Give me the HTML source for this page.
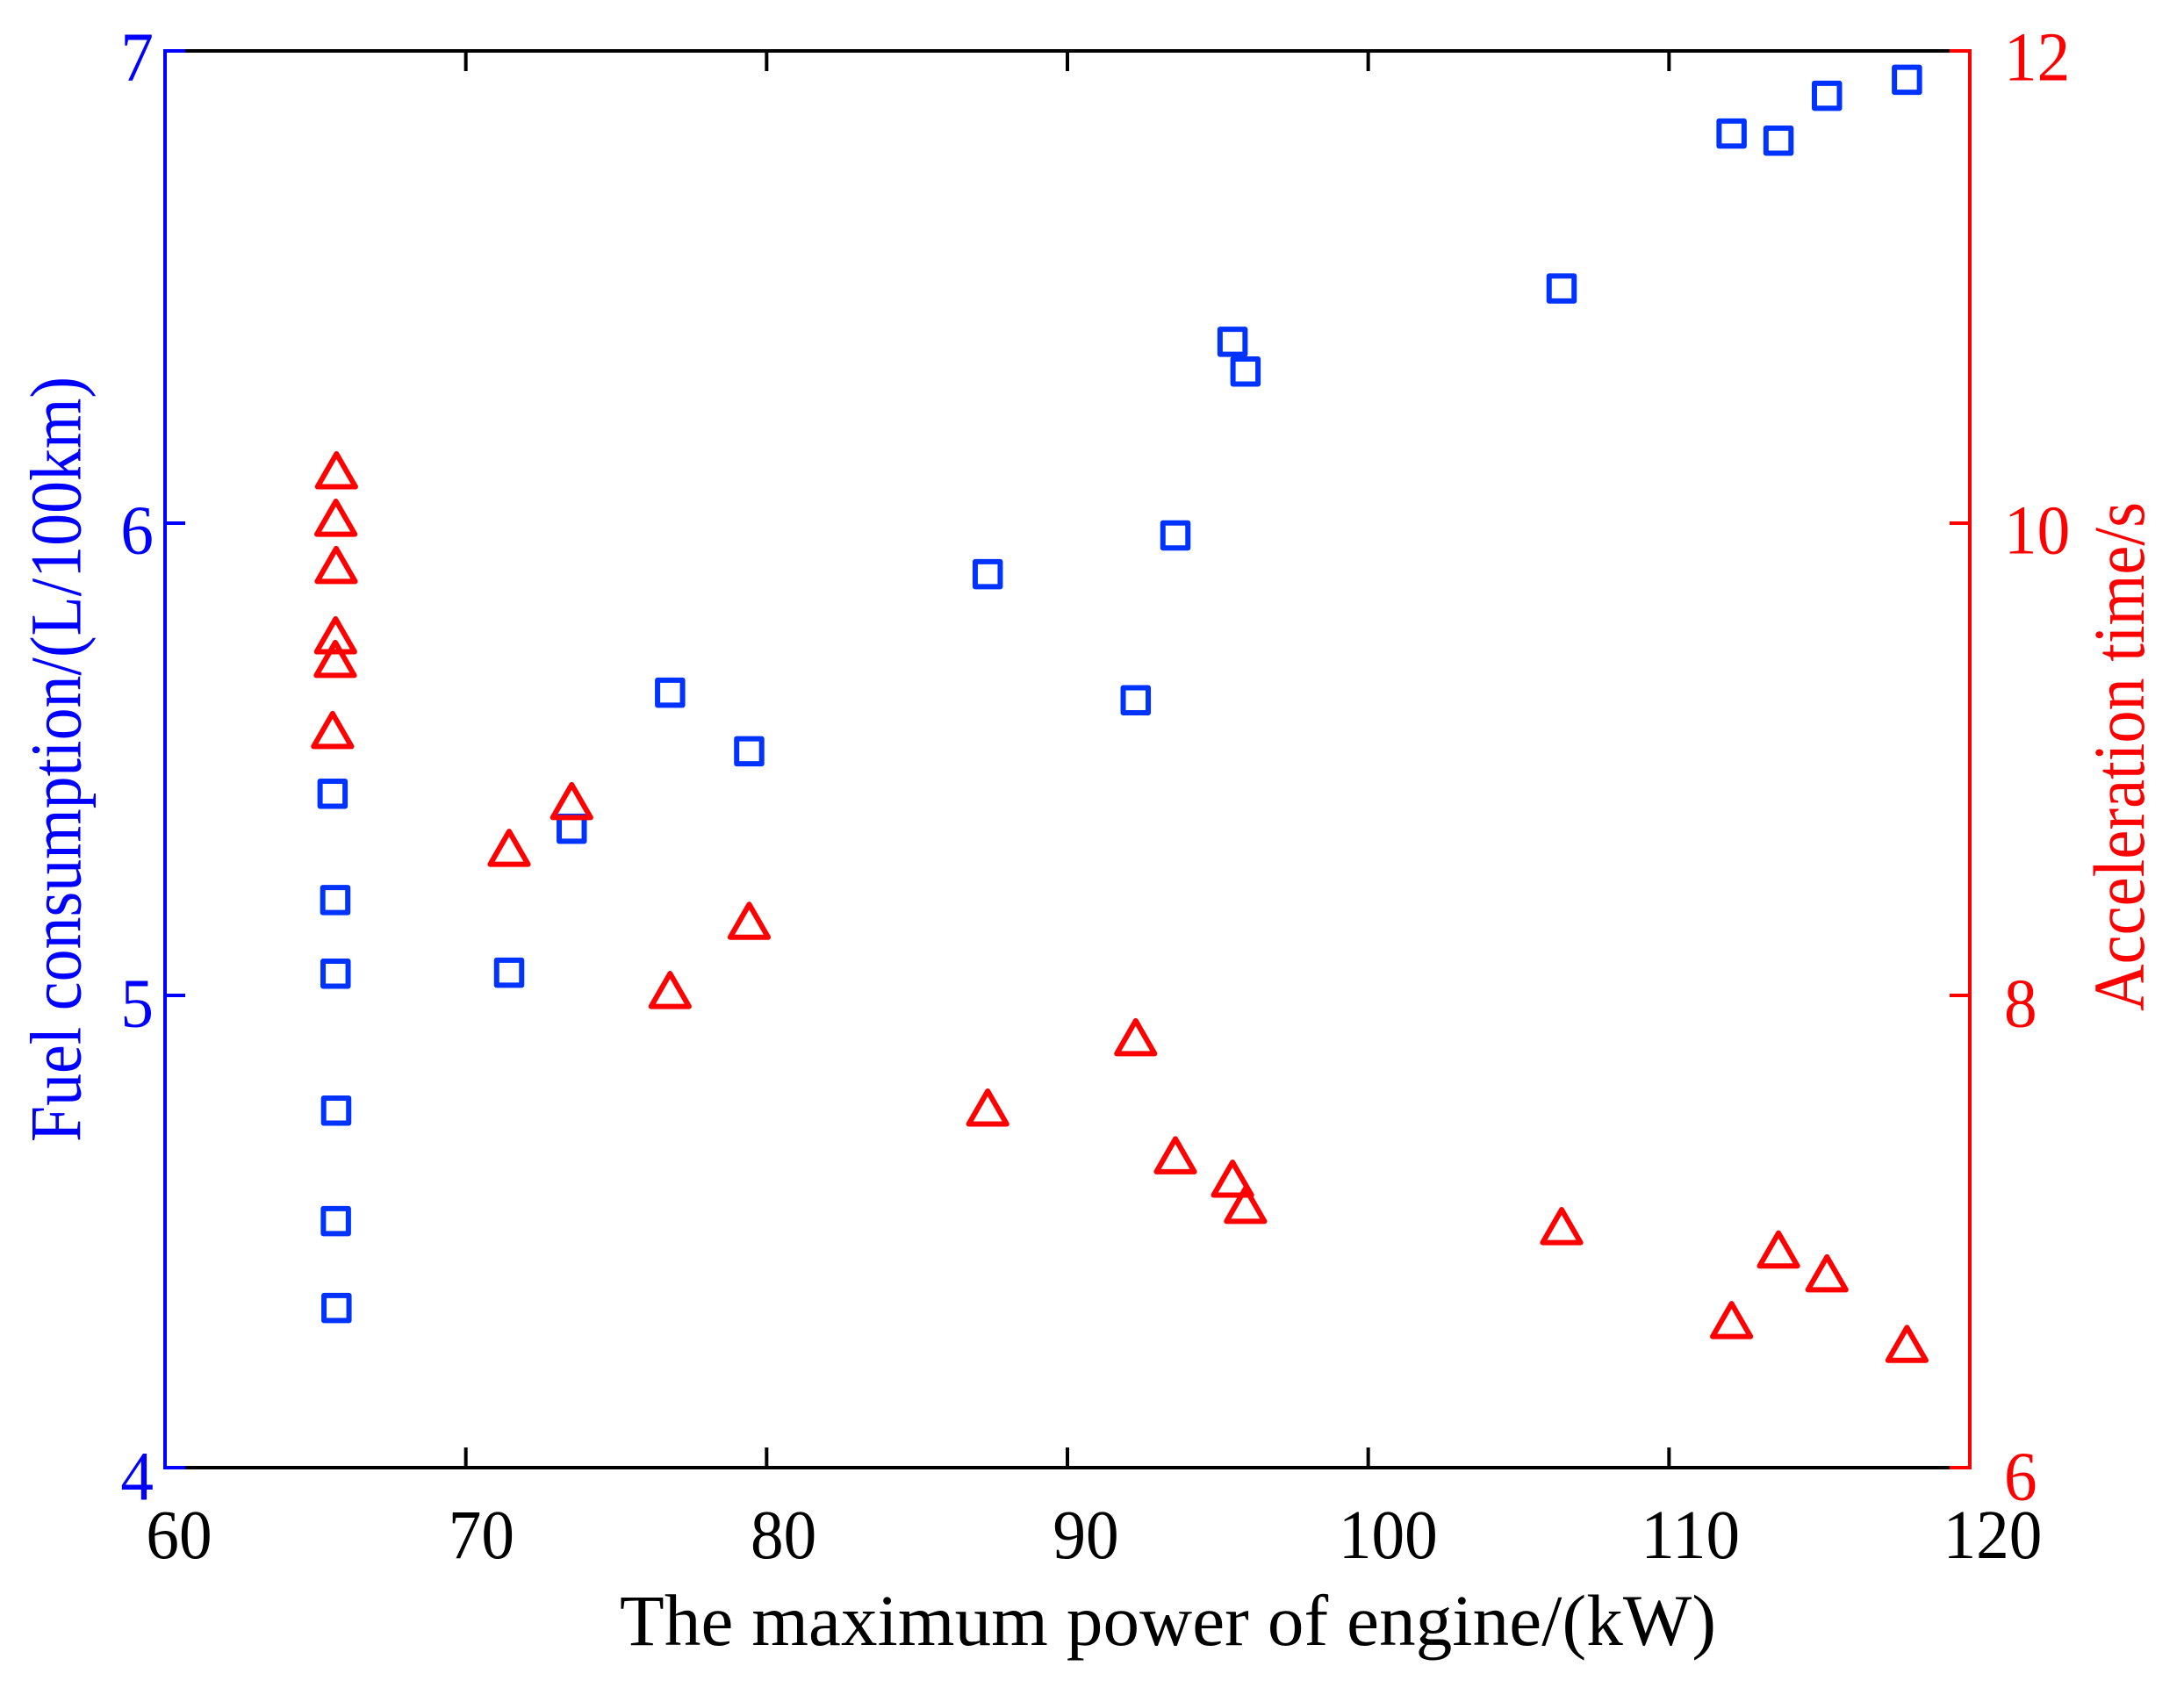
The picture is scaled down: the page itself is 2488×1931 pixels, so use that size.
<!DOCTYPE html>
<html lang="en">
<head>
<meta charset="utf-8">
<title>Fuel consumption and acceleration time vs. engine power</title>
<style>
  html, body { margin: 0; padding: 0; background: #ffffff; }
  svg { display: block; }
  text { font-family: "Liberation Serif", serif; }
</style>
</head>
<body>
<svg id="chart" xmlns="http://www.w3.org/2000/svg" width="2488" height="1931" viewBox="0 0 2488 1931">
  <rect x="0" y="0" width="2488" height="1931" fill="#ffffff"/>
  <g id="frame"></g>
  <g id="fuel-series"></g>
  <g id="accel-series"></g>
  <g id="axes"></g>
  <text x="706" y="1874" font-size="83" fill="#000000" textLength="1249" lengthAdjust="spacing">The maximum power of engine/(kW)</text>
  <text transform="translate(91.7,1301) rotate(-90)" font-size="83" fill="#0000ff" textLength="872" lengthAdjust="spacingAndGlyphs">Fuel consumption/(L/100km)</text>
  <text transform="translate(2442,1152) rotate(-90)" font-size="83" fill="#ff0000" textLength="580" lengthAdjust="spacingAndGlyphs">Acceleration time/s</text>
</svg>
<script>
const powerKw = [65.57, 65.66, 65.67, 65.69, 65.68, 65.70, 71.44, 73.52, 76.79, 79.42, 87.35, 92.27, 93.59, 95.49, 95.92, 106.43, 112.08, 113.64, 115.25, 117.91];
const fuelConsumption = [5.427, 5.202, 5.046, 4.756, 4.522, 4.338, 5.048, 5.353, 5.641, 5.517, 5.892, 5.625, 5.974, 6.384, 6.321, 6.497, 6.825, 6.810, 6.905, 6.939];
const accelerationTime = [9.124, 9.425, 9.525, 9.823, 10.023, 10.224, 8.625, 8.823, 8.023, 8.316, 7.525, 7.823, 7.323, 7.224, 7.113, 7.023, 6.625, 6.924, 6.823, 6.524];
const xTickValues = [60, 70, 80, 90, 100, 110, 120];
const leftTickValues = [4, 5, 6, 7];
const rightTickValues = [6, 8, 10, 12];

const PLOT_LEFT = 188;
const PLOT_RIGHT = 2244;
const PLOT_TOP = 58;
const PLOT_BOTTOM = 1672;
const X_MIN = 60;
const X_MAX = 120;
const LEFT_MIN = 4;
const LEFT_MAX = 7;
const RIGHT_MIN = 6;
const RIGHT_MAX = 12;
const TICK_LENGTH = 23;
const AXIS_WIDTH = 4;
const DIGIT_ADVANCE = 37.6;
const SVG_NS = 'http://www.w3.org/2000/svg';

function xScale(value) {
  return PLOT_LEFT + (value - X_MIN) / (X_MAX - X_MIN) * (PLOT_RIGHT - PLOT_LEFT);
}
function leftScale(value) {
  return PLOT_BOTTOM - (value - LEFT_MIN) / (LEFT_MAX - LEFT_MIN) * (PLOT_BOTTOM - PLOT_TOP);
}
function rightScale(value) {
  return PLOT_BOTTOM - (value - RIGHT_MIN) / (RIGHT_MAX - RIGHT_MIN) * (PLOT_BOTTOM - PLOT_TOP);
}
function xLabelPosition(value) {
  return 204 + (value - X_MIN) * 34.433;
}
function yLabelBaseline(y) {
  return 91.5 + (y - PLOT_TOP) * 1.0019;
}
function makeLine(parent, x1, y1, x2, y2, color) {
  const el = document.createElementNS(SVG_NS, 'line');
  el.setAttribute('x1', x1);
  el.setAttribute('y1', y1);
  el.setAttribute('x2', x2);
  el.setAttribute('y2', y2);
  el.setAttribute('stroke', color);
  el.setAttribute('stroke-width', AXIS_WIDTH);
  parent.appendChild(el);
  return el;
}
function makeLabel(parent, x, y, anchor, color, content) {
  const el = document.createElementNS(SVG_NS, 'text');
  el.setAttribute('x', x);
  el.setAttribute('y', y);
  el.setAttribute('text-anchor', anchor);
  el.setAttribute('font-size', '79');
  el.setAttribute('fill', color);
  el.setAttribute('textLength', content.length * DIGIT_ADVANCE);
  el.setAttribute('lengthAdjust', 'spacingAndGlyphs');
  el.textContent = content;
  parent.appendChild(el);
  return el;
}

const frameGroup = document.getElementById('frame');
const axesGroup = document.getElementById('axes');
const fuelGroup = document.getElementById('fuel-series');
const accelGroup = document.getElementById('accel-series');

const topBorder = makeLine(frameGroup, PLOT_LEFT, PLOT_TOP, PLOT_RIGHT, PLOT_TOP, '#000000');


const bottomBorder = makeLine(frameGroup, PLOT_LEFT, PLOT_BOTTOM, PLOT_RIGHT, PLOT_BOTTOM, '#000000');



xTickValues.forEach(function (value) {
  const px = xScale(value);
  const bottomTick = makeLine(frameGroup, px, PLOT_BOTTOM, px, PLOT_BOTTOM - TICK_LENGTH, '#000000');
  
  
  const topTick = makeLine(frameGroup, px, PLOT_TOP, px, PLOT_TOP + TICK_LENGTH, '#000000');
  
  
  const label = makeLabel(axesGroup, xLabelPosition(value), 1775, 'middle', '#000000', String(value));
  
  
});

powerKw.forEach(function (power, i) {
  const cx = xScale(power);
  const cy = leftScale(fuelConsumption[i]);
  const side = 28.5;
  const square = document.createElementNS(SVG_NS, 'rect');
  
  
  square.setAttribute('x', cx - side / 2);
  square.setAttribute('y', cy - side / 2);
  square.setAttribute('width', side);
  square.setAttribute('height', side);
  square.setAttribute('fill', 'none');
  square.setAttribute('stroke', '#0033ff');
  square.setAttribute('stroke-width', '6');
  square.setAttribute('stroke-linejoin', 'round');
  fuelGroup.appendChild(square);
});

powerKw.forEach(function (power, i) {
  const cx = xScale(power);
  const cy = rightScale(accelerationTime[i]);
  const halfBase = 21.6;
  const halfHeight = 18.75;
  const triangle = document.createElementNS(SVG_NS, 'polygon');
  
  
  triangle.setAttribute('points', [
    cx + ',' + (cy - halfHeight),
    (cx + halfBase) + ',' + (cy + halfHeight),
    (cx - halfBase) + ',' + (cy + halfHeight)
  ].join(' '));
  triangle.setAttribute('fill', 'none');
  triangle.setAttribute('stroke', '#ff0000');
  triangle.setAttribute('stroke-width', '6');
  triangle.setAttribute('stroke-linejoin', 'round');
  accelGroup.appendChild(triangle);
});

const leftAxis = makeLine(axesGroup, PLOT_LEFT, PLOT_TOP - 2, PLOT_LEFT, PLOT_BOTTOM + 2, '#0000ff');


const rightAxis = makeLine(axesGroup, PLOT_RIGHT, PLOT_TOP - 2, PLOT_RIGHT, PLOT_BOTTOM + 2, '#ff0000');



leftTickValues.forEach(function (value) {
  const py = leftScale(value);
  const tick = makeLine(axesGroup, PLOT_LEFT, py, PLOT_LEFT + TICK_LENGTH, py, '#0000ff');
  
  
  const label = makeLabel(axesGroup, 175, yLabelBaseline(py), 'end', '#0000ff', String(value));
  
  
});

rightTickValues.forEach(function (value) {
  const py = rightScale(value);
  const tick = makeLine(axesGroup, PLOT_RIGHT, py, PLOT_RIGHT - TICK_LENGTH, py, '#ff0000');
  
  
  const label = makeLabel(axesGroup, 2283, yLabelBaseline(py), 'start', '#ff0000', String(value));
  
  
});
</script>
</body>
</html>
